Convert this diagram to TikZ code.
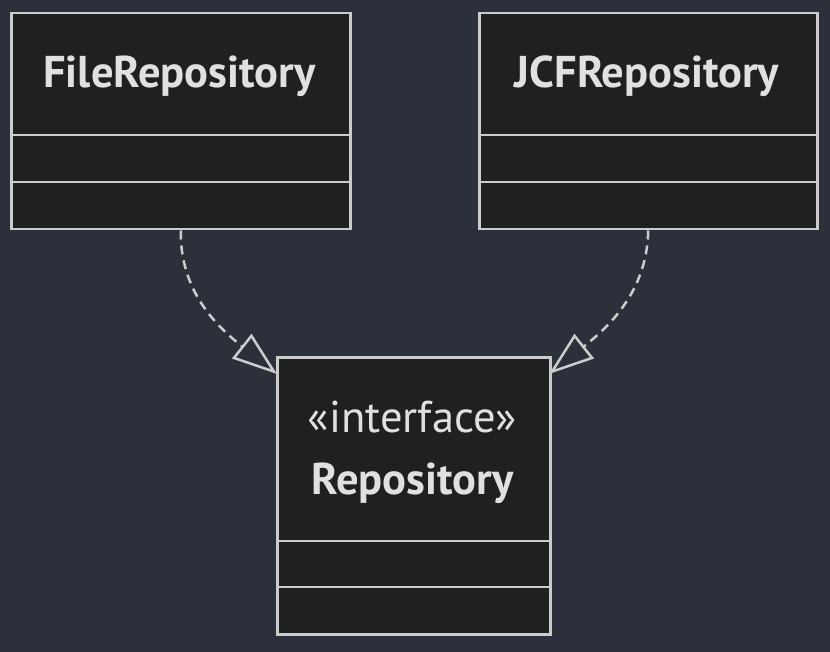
\documentclass[tikz,border=0pt]{standalone}
\usepackage{fontspec}
\setmainfont{PT Sans}
\usetikzlibrary{arrows.meta}
\definecolor{bgcol}{HTML}{2B303B}
\definecolor{boxcol}{HTML}{1F2020}
\definecolor{linecol}{HTML}{CCCCCC}
\definecolor{textcol}{HTML}{E0E0E0}

\begin{document}
\begin{tikzpicture}
  [x=1pt,y=-1pt,
   classbox/.style={draw=linecol,fill=boxcol,line width=2.5pt,rectangle,inner sep=0pt,anchor=north west},
   classname/.style={text=textcol,font=\fontsize{44.5}{48}\selectfont\bfseries,anchor=base,inner sep=0pt},
   stereo/.style={text=textcol,font=\fontsize{44.5}{48}\selectfont,anchor=base,inner sep=0pt},
   realize/.style={draw=linecol,line width=2.5pt,dash pattern=on 9pt off 6pt,
     -{Triangle[open,length=45pt,width=31pt,line width=2.5pt]}}]
  \fill[bgcol] (0,0) rectangle (830,652);

  \node[classbox,minimum width=339pt,minimum height=216pt] (file) at (10,12) {};
  \node[classbox,minimum width=338pt,minimum height=216pt] (jcf) at (478,12) {};
  \node[classbox,minimum width=273pt,minimum height=277pt] (repo) at (276,356) {};

  \node[classname] (filename) at (179.5,88) {FileRepository};
  \node[classname] (jcfname) at (647,88) {JCFRepository};
  \node[stereo] (repostereo) at (412.5,432) {«interface»};
  \node[classname] (reponame) at (412.5,494) {Repository};

  % compartments
  \foreach \cls/\off in {file/123,file/170,jcf/123,jcf/170,repo/185,repo/231}
    \draw[draw=linecol,line width=2.5pt] ([yshift=-\off pt]\cls.north west) -- ([yshift=-\off pt]\cls.north east);

  \coordinate (filetip) at (277,374);
  \coordinate (jcftip) at (549,374);
  \draw[realize] (file.south) .. controls (180,290) and (215,325) .. (filetip);
  \draw[realize] (jcf.south) .. controls (647,290) and (611,325) .. (jcftip);
\end{tikzpicture}
\end{document}
